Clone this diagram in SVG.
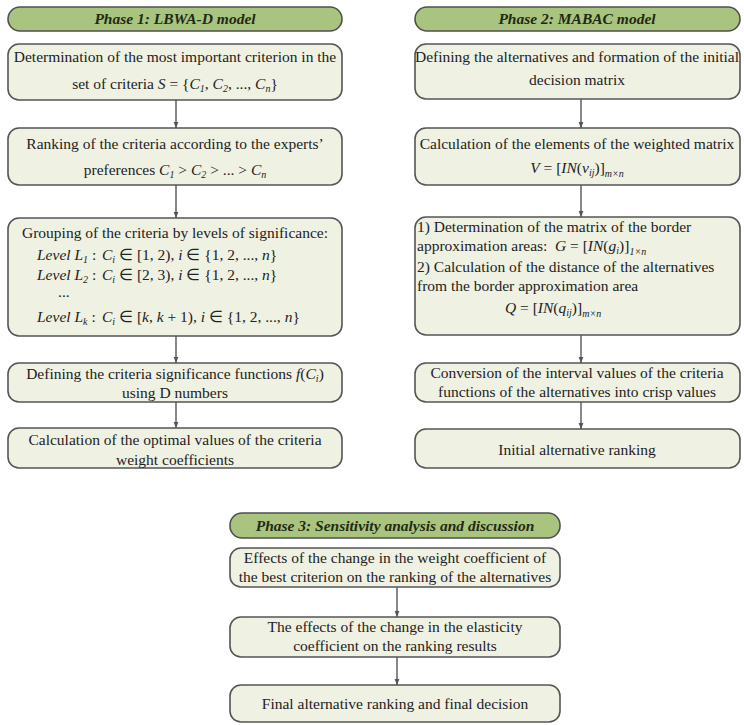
<svg xmlns="http://www.w3.org/2000/svg" width="744" height="725" viewBox="0 0 744 725">
<style>
.hdr{fill:#a9c47e;stroke:#4f4f4f;stroke-width:1.6}
.box{fill:#eff1e2;stroke:#555;stroke-width:1.6}
.ht{font-family:"Liberation Serif",serif;font-weight:bold;font-style:italic;font-size:15.5px;fill:#1f2a14;text-anchor:middle}
.t{font-family:"Liberation Serif",serif;font-size:15.5px;fill:#222;text-anchor:middle}
.l{font-family:"Liberation Serif",serif;font-size:15.5px;fill:#222}
.m{font-style:italic}
.s{font-size:10px;font-style:italic}
.c line{stroke:#555;stroke-width:1.4;marker-end:url(#ah)}
</style>
<defs>
<marker id="ah" viewBox="0 0 10 10" refX="10" refY="5" markerWidth="6" markerHeight="6" orient="auto" markerUnits="userSpaceOnUse">
<path d="M0,1 L10,5 L0,9 z" fill="#555"/>
</marker>
</defs>
<rect width="744" height="725" fill="#ffffff"/>

<g id="p1-header"><rect class="hdr" x="8" y="7" width="334" height="24" rx="12"/><text class="ht" x="175" y="24">Phase 1: LBWA-D model</text></g>
<g id="p1-n1"><rect class="box" x="8" y="44" width="334" height="56" rx="11"/>
<text class="t" x="175" y="62">Determination of the most important criterion in the</text>
<text class="t" x="175" y="89">set of criteria  <tspan class="m">S</tspan> = {<tspan class="m">C</tspan><tspan class="s" dy="3">1</tspan><tspan dy="-3">, </tspan><tspan class="m">C</tspan><tspan class="s" dy="3">2</tspan><tspan dy="-3">, ..., </tspan><tspan class="m">C</tspan><tspan class="s" dy="3">n</tspan><tspan dy="-3">}</tspan></text></g>
<g id="p1-n2"><rect class="box" x="8" y="128" width="334" height="57" rx="11"/>
<text class="t" x="175" y="149">Ranking of the criteria according to the experts’</text>
<text class="t" x="175" y="175">preferences  <tspan class="m">C</tspan><tspan class="s" dy="3">1</tspan><tspan dy="-3"> &gt; </tspan><tspan class="m">C</tspan><tspan class="s" dy="3">2</tspan><tspan dy="-3"> &gt; ... &gt; </tspan><tspan class="m">C</tspan><tspan class="s" dy="3">n</tspan></text></g>
<g id="p1-n3"><rect class="box" x="8" y="218" width="334" height="118" rx="11"/>
<text class="t" x="175" y="238">Grouping of the criteria by levels of significance:</text>
<text class="l" x="37" y="260"><tspan class="m">Level L</tspan><tspan class="s" dy="3">1</tspan><tspan dy="-3"> :</tspan></text>
<text class="l" x="102" y="260"><tspan class="m">C</tspan><tspan class="s" dy="3">i</tspan><tspan dy="-3"> ∈ [1, 2),  </tspan><tspan class="m">i</tspan> ∈ {1, 2, ..., <tspan class="m">n</tspan>}</text>
<text class="l" x="37" y="280"><tspan class="m">Level L</tspan><tspan class="s" dy="3">2</tspan><tspan dy="-3"> :</tspan></text>
<text class="l" x="102" y="280"><tspan class="m">C</tspan><tspan class="s" dy="3">i</tspan><tspan dy="-3"> ∈ [2, 3),  </tspan><tspan class="m">i</tspan> ∈ {1, 2, ..., <tspan class="m">n</tspan>}</text>
<text class="l" x="58" y="297">...</text>
<text class="l" x="37" y="322"><tspan class="m">Level L</tspan><tspan class="s" dy="3">k</tspan><tspan dy="-3"> :</tspan></text>
<text class="l" x="102" y="322"><tspan class="m">C</tspan><tspan class="s" dy="3">i</tspan><tspan dy="-3"> ∈ [</tspan><tspan class="m">k</tspan>, <tspan class="m">k</tspan> + 1),  <tspan class="m">i</tspan> ∈ {1, 2, ..., <tspan class="m">n</tspan>}</text></g>
<g id="p1-n4"><rect class="box" x="8" y="363" width="334" height="39" rx="11"/>
<text class="t" x="175" y="379">Defining the criteria significance functions  <tspan class="m">f</tspan>(<tspan class="m">C</tspan><tspan class="s" dy="3">i</tspan><tspan dy="-3">)</tspan></text>
<text class="t" x="175" y="398">using D numbers</text></g>
<g id="p1-n5"><rect class="box" x="8" y="428" width="334" height="40" rx="11"/>
<text class="t" x="175" y="445">Calculation of the optimal values of the criteria</text>
<text class="t" x="175" y="465">weight coefficients</text></g>

<g id="p2-header"><rect class="hdr" x="415" y="7" width="325" height="24" rx="12"/><text class="ht" x="577" y="24">Phase 2: MABAC model</text></g>
<g id="p2-n1"><rect class="box" x="415" y="44" width="325" height="55" rx="11"/>
<text class="t" x="577" y="62">Defining the alternatives and formation of the initial</text>
<text class="t" x="577" y="85">decision matrix</text></g>
<g id="p2-n2"><rect class="box" x="415" y="128" width="325" height="57" rx="11"/>
<text class="t" x="577" y="149">Calculation of the elements of the weighted matrix</text>
<text class="t" x="577" y="173"><tspan class="m">V</tspan> = [<tspan class="m">IN</tspan>(<tspan class="m">v</tspan><tspan class="s" dy="3">ij</tspan><tspan dy="-3">)]</tspan><tspan class="s" dy="4">m×n</tspan></text></g>
<g id="p2-n3"><rect class="box" x="415" y="217" width="325" height="118" rx="11"/>
<text class="l" x="417" y="232">1) Determination of the matrix of the border</text>
<text class="l" x="417" y="251">approximation areas:</text>
<text class="l" x="555" y="251"><tspan class="m">G</tspan> = [<tspan class="m">IN</tspan>(<tspan class="m">g</tspan><tspan class="s" dy="3">i</tspan><tspan dy="-3">)]</tspan><tspan class="s" dy="4">1×n</tspan></text>
<text class="l" x="417" y="272">2) Calculation of the distance of the alternatives</text>
<text class="l" x="417" y="291">from the border approximation area</text>
<text class="l" x="505" y="313"><tspan class="m">Q</tspan> = [<tspan class="m">IN</tspan>(<tspan class="m">q</tspan><tspan class="s" dy="3">ij</tspan><tspan dy="-3">)]</tspan><tspan class="s" dy="4">m×n</tspan></text></g>
<g id="p2-n4"><rect class="box" x="415" y="363" width="325" height="39" rx="11"/>
<text class="t" x="577" y="378">Conversion of the interval values of the criteria</text>
<text class="t" x="577" y="397">functions of the alternatives into crisp values</text></g>
<g id="p2-n5"><rect class="box" x="415" y="429" width="325" height="39" rx="11"/>
<text class="t" x="577" y="455">Initial alternative ranking</text></g>

<g id="p3-header"><rect class="hdr" x="230" y="513" width="330" height="25" rx="12"/><text class="ht" x="395" y="531">Phase 3: Sensitivity analysis and discussion</text></g>
<g id="p3-n1"><rect class="box" x="230" y="548" width="330" height="39" rx="11"/>
<text class="t" x="395" y="563">Effects of the change in the weight coefficient of</text>
<text class="t" x="395" y="582">the best criterion on the ranking of the alternatives</text></g>
<g id="p3-n2"><rect class="box" x="230" y="617" width="330" height="40" rx="11"/>
<text class="t" x="395" y="632">The effects of the change in the elasticity</text>
<text class="t" x="395" y="651">coefficient on the ranking results</text></g>
<g id="p3-n3"><rect class="box" x="230" y="685" width="330" height="37" rx="11"/>
<text class="t" x="395" y="709">Final alternative ranking and final decision</text></g>

<g id="connectors" class="c">
<line x1="176" y1="100" x2="176" y2="128"/>
<line x1="176" y1="185" x2="176" y2="218"/>
<line x1="176" y1="336" x2="176" y2="363"/>
<line x1="176" y1="402" x2="176" y2="428"/>
<line x1="581" y1="99" x2="581" y2="128"/>
<line x1="581" y1="185" x2="581" y2="217"/>
<line x1="581" y1="335" x2="581" y2="363"/>
<line x1="581" y1="402" x2="581" y2="429"/>
<line x1="397" y1="587" x2="397" y2="617"/>
<line x1="397" y1="657" x2="397" y2="685"/>
</g>
</svg>
